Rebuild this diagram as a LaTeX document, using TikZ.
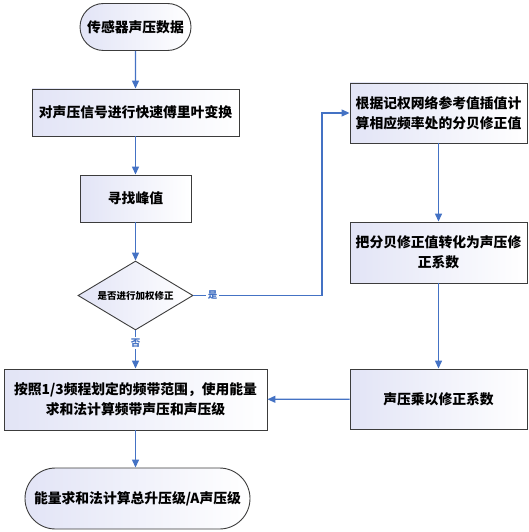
\documentclass[tikz,border=0pt]{standalone}
\usepackage{fontspec}
\setmainfont{Noto Sans CJK SC}
\usetikzlibrary{shapes.geometric,shapes.misc,arrows.meta}

\definecolor{flowblue}{RGB}{68, 114, 196}
\definecolor{boxline}{RGB}{60, 60, 60}
\definecolor{boxfill}{RGB}{226, 228, 246}

\tikzset{
    procbox/.style = {
        draw          = boxline,
        line width    = 0.9pt,
        left color    = boxfill,
        right color   = white,
        inner sep     = 2pt,
        align         = center,
        font          = \fontsize{13.8}{20}\selectfont\bfseries
    },
    termbox/.style = {
        procbox,
        rounded rectangle
    },
    judgebox/.style = {
        procbox,
        diamond,
        aspect        = 1.67,
        inner sep     = 0pt,
        minimum width = 115pt,
        minimum height = 69pt,
        font          = \fontsize{9.5}{12}\selectfont\bfseries
    },
    flow/.style = {
        draw          = flowblue,
        line width    = 1.3pt,
        -{Triangle[length=8pt, width=7pt]}
    },
    answer/.style = {
        fill          = white,
        text          = flowblue,
        inner sep     = 1.5pt,
        font          = \fontsize{9.5}{12}\selectfont\bfseries
    }
}

\begin{document}
\begin{tikzpicture}
    \useasboundingbox (0pt,0pt) rectangle (529pt,-532pt);

    % left column
    \node[termbox, minimum width=115pt, minimum height=47pt] (start) at (135.5pt,-27pt) {传感器声压数据};
    \node[procbox, minimum width=207pt, minimum height=47pt] (fft) at (135.5pt,-112.5pt) {对声压信号进行快速傅里叶变换};
    \node[procbox, minimum width=111pt, minimum height=47pt] (peak) at (135.5pt,-198.5pt) {寻找峰值};
    \node[judgebox] (judge) at (135.5pt,-295.5pt) {是否进行加权修正};
    \node[procbox, minimum width=263pt, minimum height=61pt] (band) at (135.5pt,-399.5pt)
        {按照1/3频程划定的频带范围，使用能量\\求和法计算频带声压和声压级};
    \node[termbox, minimum width=229pt, minimum height=61pt] (total) at (137.5pt,-498.5pt)
        {能量求和法计算总升压级/A声压级};

    % right column
    \node[procbox, minimum width=177pt, minimum height=60pt] (weight) at (438.5pt,-113pt)
        {根据记权网络参考值插值计\\算相应频率处的分贝修正值};
    \node[procbox, minimum width=177pt, minimum height=61pt] (coef) at (438.5pt,-252.5pt)
        {把分贝修正值转化为声压修\\正系数};
    \node[procbox, minimum width=177pt, minimum height=60pt] (mult) at (438.5pt,-399pt)
        {声压乘以修正系数};

    \coordinate (turn) at (322pt,-295.5pt);

    % connectors
    \draw[flow] (start) -- (fft);
    \draw[flow] (fft) -- (peak);
    \draw[flow] (peak) -- (judge);
    \draw[flow] (judge.east) -- node[answer, pos=0.15] {是} (turn) |- (weight.west);
    \draw[flow] (judge.south) -- node[answer, pos=0.33] {否} (band.north);
    \draw[flow] (weight) -- (coef);
    \draw[flow] (coef) -- (mult);
    \draw[flow] (mult) -- (band);
    \draw[flow] (band.south) -- (band.south |- total.north);
\end{tikzpicture}
\end{document}
